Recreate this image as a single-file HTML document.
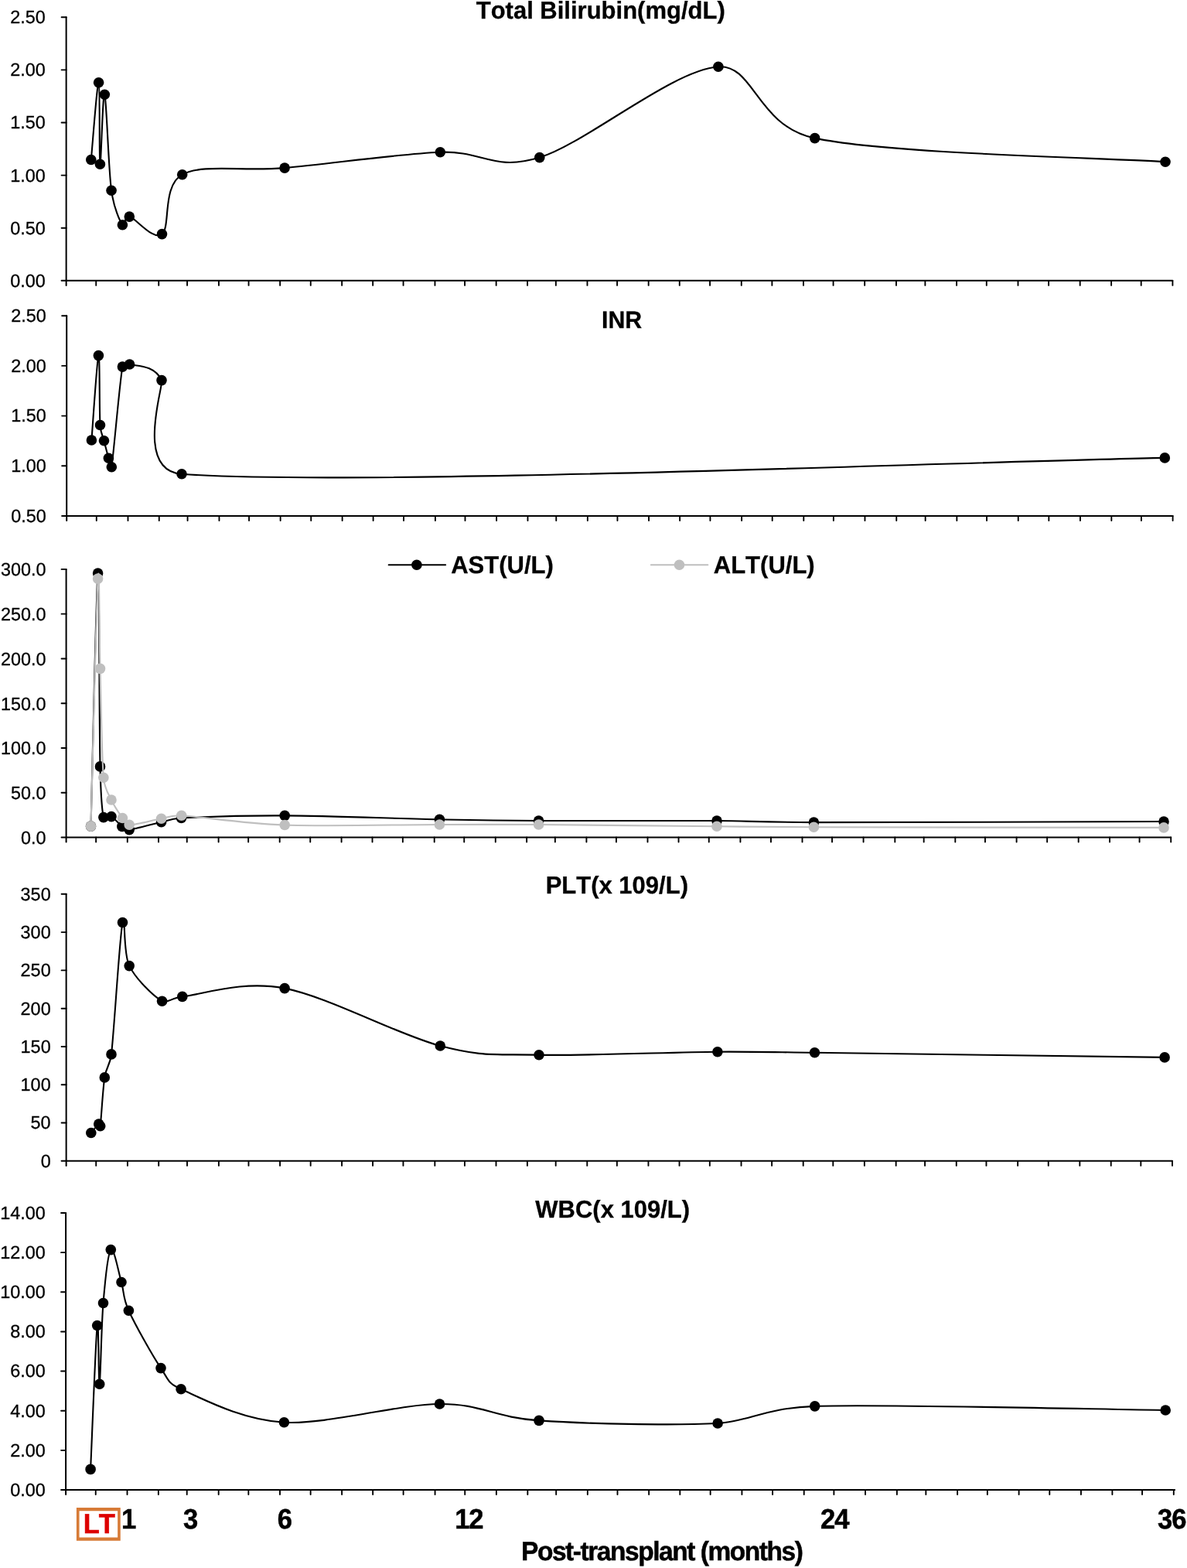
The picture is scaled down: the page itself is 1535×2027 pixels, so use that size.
<!DOCTYPE html>
<html lang="en">
<head>
<meta charset="utf-8">
<title>Post-transplant laboratory trends</title>
<style>
html,body{margin:0;padding:0;background:#fff;}
body{width:1535px;height:2027px;overflow:hidden;}
svg{display:block;font-family:'Liberation Sans', Arial, Helvetica, sans-serif;text-rendering:geometricPrecision;font-kerning:none;}
.ax path{stroke:#000;fill:none;stroke-linecap:round;stroke-linejoin:round;}
.ln{fill:none;stroke-width:2.1;stroke-linejoin:round;stroke-linecap:round;}
.yl{font-size:23.4px;text-anchor:end;fill:#000;stroke:#000;stroke-width:0.3px;}
.tt{font-size:31.0px;font-weight:bold;text-anchor:middle;fill:#000;stroke:#000;stroke-width:0.3px;}
.lg{font-size:31.0px;font-weight:bold;fill:#000;stroke:#000;stroke-width:0.3px;}
.xl{font-size:34.6px;font-weight:bold;letter-spacing:-1.2px;font-kerning:none;fill:#000;stroke:#000;stroke-width:0.5px;}
.lt{fill:#dd0000;stroke:#dd0000;}
.xt{font-size:33.5px;font-weight:bold;letter-spacing:-1.45px;font-kerning:none;fill:#000;stroke:#000;stroke-width:0.5px;}
</style>
</head>
<body>
<svg width="1535" height="2027" viewBox="0 0 1535 2027">
<rect width="1535" height="2027" fill="#fff"/>
<g class="ax">
<path d="M85.64,22.2 V368.92" stroke-width="2.0"/>
<path d="M79.59,362.87 H1516.4" stroke-width="2.0"/>
<path d="M79.59,22.2 H85.64 M79.59,90.33 H85.64 M79.59,158.47 H85.64 M79.59,226.6 H85.64 M79.59,294.74 H85.64" stroke-width="1.9"/>
<path d="M124.24,362.87 V368.92 M164.94,362.87 V368.92 M205.25,362.87 V368.92 M242.05,362.87 V368.92 M282.95,362.87 V368.92 M321.55,362.87 V368.92 M362.15,362.87 V368.92 M401.75,362.87 V368.92 M442.15,362.87 V368.92 M482.16,362.87 V368.92 M521.56,362.87 V368.92 M562.46,362.87 V368.92 M601.06,362.87 V368.92 M641.66,362.87 V368.92 M682.07,362.87 V368.92 M718.87,362.87 V368.92 M759.47,362.87 V368.92 M798.07,362.87 V368.92 M838.67,362.87 V368.92 M878.77,362.87 V368.92 M918.07,362.87 V368.92 M958.78,362.87 V368.92 M998.38,362.87 V368.92 M1038.98,362.87 V368.92 M1077.58,362.87 V368.92 M1118.18,362.87 V368.92 M1158.99,362.87 V368.92 M1196.39,362.87 V368.92 M1237.09,362.87 V368.92 M1275.79,362.87 V368.92 M1316.49,362.87 V368.92 M1356.09,362.87 V368.92 M1396.69,362.87 V368.92 M1437.1,362.87 V368.92 M1475.7,362.87 V368.92 M1516.4,362.87 V368.92" stroke-width="1.9"/>
</g>
<text class="yl" x="58.85" y="30">2.50</text>
<text class="yl" x="58.85" y="98">2.00</text>
<text class="yl" x="58.85" y="166">1.50</text>
<text class="yl" x="58.85" y="235">1.00</text>
<text class="yl" x="58.85" y="303">0.50</text>
<text class="yl" x="58.85" y="371">0.00</text>
<text class="tt" transform="translate(776.7 24) scale(1 1.02)">Total Bilirubin(mg/dL)</text>
<path class="ln" d="M117.8,206.5 C119.43,189.88 125.67,105.83 127.6,106.8 C129.53,107.77 128.12,209.73 129.4,212.3 C130.68,214.87 132.86,116.55 135.3,122.2 C137.74,127.85 140.2,218.1 144.05,246.2 C147.23,269.41 155.2,286.13 158.4,290.8 C161.49,295.3 160.52,278.53 167.3,280.1 C175.82,282.07 198.1,311.67 209.5,302.6 C220.9,293.53 209.27,239.95 235.7,225.7 C262.13,211.45 312.5,221.92 368.1,217.1 C423.7,212.28 514.35,199.05 569.3,196.8 C624.25,194.55 637.87,222.02 697.8,203.6 C757.73,185.18 869.58,90.47 928.9,86.3 C975.64,83.02 977.78,162.46 1053.7,178.6 C1150.05,199.08 1431.45,204.1 1507,209.2" stroke="#000"/>
<g fill="#000"><circle cx="117.8" cy="206.5" r="6.8"/><circle cx="127.6" cy="106.8" r="6.8"/><circle cx="129.4" cy="212.3" r="6.8"/><circle cx="135.3" cy="122.2" r="6.8"/><circle cx="144.05" cy="246.2" r="6.8"/><circle cx="158.4" cy="290.8" r="6.8"/><circle cx="167.3" cy="280.1" r="6.8"/><circle cx="209.5" cy="302.6" r="6.8"/><circle cx="235.7" cy="225.7" r="6.8"/><circle cx="368.1" cy="217.1" r="6.8"/><circle cx="569.3" cy="196.8" r="6.8"/><circle cx="697.8" cy="203.6" r="6.8"/><circle cx="928.9" cy="86.3" r="6.8"/><circle cx="1053.7" cy="178.6" r="6.8"/><circle cx="1507" cy="209.2" r="6.8"/></g>
<g class="ax">
<path d="M86.2,408.2 V673.02" stroke-width="2.0"/>
<path d="M80.15,666.97 H1516.6" stroke-width="2.0"/>
<path d="M80.15,408.2 H86.2 M80.15,472.89 H86.2 M80.15,537.59 H86.2 M80.15,602.28 H86.2" stroke-width="1.9"/>
<path d="M124.79,666.97 V673.02 M165.48,666.97 V673.02 M205.77,666.97 V673.02 M242.57,666.97 V673.02 M283.46,666.97 V673.02 M322.05,666.97 V673.02 M362.64,666.97 V673.02 M402.23,666.97 V673.02 M442.63,666.97 V673.02 M482.62,666.97 V673.02 M522.01,666.97 V673.02 M562.9,666.97 V673.02 M601.49,666.97 V673.02 M642.08,666.97 V673.02 M682.47,666.97 V673.02 M719.27,666.97 V673.02 M759.86,666.97 V673.02 M798.45,666.97 V673.02 M839.04,666.97 V673.02 M879.13,666.97 V673.02 M918.43,666.97 V673.02 M959.12,666.97 V673.02 M998.71,666.97 V673.02 M1039.3,666.97 V673.02 M1077.89,666.97 V673.02 M1118.48,666.97 V673.02 M1159.27,666.97 V673.02 M1196.67,666.97 V673.02 M1237.36,666.97 V673.02 M1276.05,666.97 V673.02 M1316.74,666.97 V673.02 M1356.33,666.97 V673.02 M1396.93,666.97 V673.02 M1437.32,666.97 V673.02 M1475.91,666.97 V673.02 M1516.6,666.97 V673.02" stroke-width="1.9"/>
</g>
<text class="yl" x="59.85" y="416">2.50</text>
<text class="yl" x="59.85" y="481">2.00</text>
<text class="yl" x="59.85" y="545">1.50</text>
<text class="yl" x="59.85" y="610">1.00</text>
<text class="yl" x="59.85" y="675">0.50</text>
<text class="tt" transform="translate(804.1 424) scale(1 1.02)" style="font-size:30.3px">INR</text>
<path class="ln" d="M118.4,569 C119.9,550.77 125.55,462.85 127.4,459.6 C129.25,456.35 128.32,531.13 129.5,549.5 C130.17,559.93 133.47,565.76 134.5,569.8 C136.32,576.92 138.77,586.55 140.4,592.2 C140.9,593.92 143.39,609.7 144.3,603.7 C147.3,584.02 154.52,496.22 158.4,474.1 C159.24,469.32 163.01,469.41 167.6,471 C175.05,473.58 199.07,470.72 209,491.6 C212.21,498.35 173.21,608.02 235,612.8 C451.22,629.52 1294.42,595.38 1506.3,591.9" stroke="#000"/>
<g fill="#000"><circle cx="118.4" cy="569" r="6.8"/><circle cx="127.4" cy="459.6" r="6.8"/><circle cx="129.5" cy="549.5" r="6.8"/><circle cx="134.5" cy="569.8" r="6.8"/><circle cx="140.4" cy="592.2" r="6.8"/><circle cx="144.3" cy="603.7" r="6.8"/><circle cx="158.4" cy="474.1" r="6.8"/><circle cx="167.6" cy="471" r="6.8"/><circle cx="209" cy="491.6" r="6.8"/><circle cx="235" cy="612.8" r="6.8"/><circle cx="1506.3" cy="591.9" r="6.8"/></g>
<g class="ax">
<path d="M85.6,735.9 V1088.55" stroke-width="2.0"/>
<path d="M79.55,1082.5 H1514.2" stroke-width="2.0"/>
<path d="M79.55,735.9 H85.6 M79.55,793.67 H85.6 M79.55,851.43 H85.6 M79.55,909.2 H85.6 M79.55,966.97 H85.6 M79.55,1024.73 H85.6" stroke-width="1.9"/>
<path d="M124.14,1082.5 V1088.55 M164.78,1082.5 V1088.55 M205.02,1082.5 V1088.55 M241.77,1082.5 V1088.55 M282.61,1082.5 V1088.55 M321.15,1082.5 V1088.55 M361.69,1082.5 V1088.55 M401.24,1082.5 V1088.55 M441.58,1082.5 V1088.55 M481.52,1082.5 V1088.55 M520.86,1082.5 V1088.55 M561.7,1082.5 V1088.55 M600.24,1082.5 V1088.55 M640.78,1082.5 V1088.55 M681.12,1082.5 V1088.55 M717.87,1082.5 V1088.55 M758.41,1082.5 V1088.55 M796.95,1082.5 V1088.55 M837.49,1082.5 V1088.55 M877.54,1082.5 V1088.55 M916.78,1082.5 V1088.55 M957.42,1082.5 V1088.55 M996.96,1082.5 V1088.55 M1037.5,1082.5 V1088.55 M1076.04,1082.5 V1088.55 M1116.58,1082.5 V1088.55 M1157.32,1082.5 V1088.55 M1194.67,1082.5 V1088.55 M1235.31,1082.5 V1088.55 M1273.95,1082.5 V1088.55 M1314.59,1082.5 V1088.55 M1354.14,1082.5 V1088.55 M1394.68,1082.5 V1088.55 M1435.02,1082.5 V1088.55 M1473.56,1082.5 V1088.55 M1514.2,1082.5 V1088.55" stroke-width="1.9"/>
</g>
<text class="yl" x="59.45" y="744">300.0</text>
<text class="yl" x="59.45" y="802">250.0</text>
<text class="yl" x="59.45" y="860">200.0</text>
<text class="yl" x="59.45" y="918">150.0</text>
<text class="yl" x="59.45" y="975">100.0</text>
<text class="yl" x="59.45" y="1033">50.0</text>
<text class="yl" x="59.45" y="1091">0.0</text>
<path class="ln" d="M117.5,1068.1 C119.02,1013.59 124.6,753.92 126.6,741.05 C128.6,728.18 128.28,938.31 129.5,990.9 C130.26,1023.81 132.39,1049.85 133.9,1056.6 C135.01,1061.55 142.17,1054.7 144,1055.6 C147.99,1057.57 153.98,1065.57 157.85,1068.4 C160.18,1070.11 162.11,1073.17 167.2,1072.6 C175.66,1071.65 197.38,1065.22 208.6,1062.7 C214.16,1061.45 221.31,1058.19 234.5,1057.5 C261.1,1056.12 312.55,1054.1 368.2,1054.4 C423.85,1054.7 513.67,1058.2 568.4,1059.3 C623.13,1060.4 636.83,1060.72 696.6,1061 C756.37,1061.28 867.7,1060.65 927,1061 C965.6,1061.23 989.69,1062.99 1052.4,1063.1 C1148.73,1063.27 1429.57,1062.22 1505,1062.05" stroke="#000"/>
<g fill="#000"><circle cx="117.5" cy="1068.1" r="6.8"/><circle cx="126.6" cy="741.05" r="6.8"/><circle cx="129.5" cy="990.9" r="6.8"/><circle cx="133.9" cy="1056.6" r="6.8"/><circle cx="144" cy="1055.6" r="6.8"/><circle cx="157.85" cy="1068.4" r="6.8"/><circle cx="167.2" cy="1072.6" r="6.8"/><circle cx="208.6" cy="1062.7" r="6.8"/><circle cx="234.5" cy="1057.5" r="6.8"/><circle cx="368.2" cy="1054.4" r="6.8"/><circle cx="568.4" cy="1059.3" r="6.8"/><circle cx="696.6" cy="1061" r="6.8"/><circle cx="927" cy="1061" r="6.8"/><circle cx="1052.4" cy="1063.1" r="6.8"/><circle cx="1505" cy="1062.05" r="6.8"/></g>
<path class="ln" d="M117.5,1068.1 C119.02,1014.77 124.6,782.05 126.6,748.1 C128.6,714.15 128.28,821.53 129.5,864.4 C130.72,907.27 131.48,977.03 133.9,1005.3 C135.2,1020.46 141.81,1029.33 144,1034 C148.08,1042.7 154.53,1052.12 158.4,1057.5 C162.03,1062.55 160.98,1066.21 167.2,1066.3 C175.57,1066.42 197.35,1060.2 208.6,1058.2 C214.17,1057.21 221.52,1053.61 234.7,1054.3 C261.3,1055.68 312.58,1064.55 368.2,1066.5 C423.82,1068.45 513.67,1066.08 568.4,1066 C623.13,1065.92 636.83,1065.62 696.6,1066 C756.37,1066.38 867.7,1067.75 927,1068.3 C965.6,1068.66 989.7,1069.13 1052.4,1069.3 C1148.73,1069.57 1429.57,1069.8 1505,1069.9" stroke="#bfbfbf"/>
<g fill="#bfbfbf"><circle cx="117.5" cy="1068.1" r="6.8"/><circle cx="126.6" cy="748.1" r="6.8"/><circle cx="129.5" cy="864.4" r="6.8"/><circle cx="133.9" cy="1005.3" r="6.8"/><circle cx="144" cy="1034" r="6.8"/><circle cx="158.4" cy="1057.5" r="6.8"/><circle cx="167.2" cy="1066.3" r="6.8"/><circle cx="208.6" cy="1058.2" r="6.8"/><circle cx="234.7" cy="1054.3" r="6.8"/><circle cx="368.2" cy="1066.5" r="6.8"/><circle cx="568.4" cy="1066" r="6.8"/><circle cx="696.6" cy="1066" r="6.8"/><circle cx="927" cy="1068.3" r="6.8"/><circle cx="1052.4" cy="1069.3" r="6.8"/><circle cx="1505" cy="1069.9" r="6.8"/></g>
<path class="ln" d="M502.7,730.3 H576.1" stroke="#000"/><circle cx="538.9" cy="730.3" r="6.8" fill="#000"/>
<text class="lg" transform="translate(583.2 741) scale(1 1.02)">AST(U/L)</text>
<path class="ln" d="M841.9,730.3 H915.3" stroke="#bfbfbf"/><circle cx="878.5" cy="730.3" r="6.8" fill="#bfbfbf"/>
<text class="lg" transform="translate(922.8 741) scale(1 1.02)">ALT(U/L)</text>
<g class="ax">
<path d="M85.64,1155.8 V1506.9" stroke-width="2.0"/>
<path d="M79.59,1500.85 H1516" stroke-width="2.0"/>
<path d="M79.59,1155.8 H85.64 M79.59,1205.09 H85.64 M79.59,1254.39 H85.64 M79.59,1303.68 H85.64 M79.59,1352.97 H85.64 M79.59,1402.26 H85.64 M79.59,1451.56 H85.64" stroke-width="1.9"/>
<path d="M124.23,1500.85 V1506.9 M164.92,1500.85 V1506.9 M205.21,1500.85 V1506.9 M242,1500.85 V1506.9 M282.89,1500.85 V1506.9 M321.48,1500.85 V1506.9 M362.07,1500.85 V1506.9 M401.66,1500.85 V1506.9 M442.06,1500.85 V1506.9 M482.05,1500.85 V1506.9 M521.44,1500.85 V1506.9 M562.33,1500.85 V1506.9 M600.92,1500.85 V1506.9 M641.51,1500.85 V1506.9 M681.9,1500.85 V1506.9 M718.69,1500.85 V1506.9 M759.28,1500.85 V1506.9 M797.87,1500.85 V1506.9 M838.46,1500.85 V1506.9 M878.55,1500.85 V1506.9 M917.84,1500.85 V1506.9 M958.53,1500.85 V1506.9 M998.12,1500.85 V1506.9 M1038.71,1500.85 V1506.9 M1077.3,1500.85 V1506.9 M1117.89,1500.85 V1506.9 M1158.68,1500.85 V1506.9 M1196.08,1500.85 V1506.9 M1236.77,1500.85 V1506.9 M1275.46,1500.85 V1506.9 M1316.15,1500.85 V1506.9 M1355.74,1500.85 V1506.9 M1396.33,1500.85 V1506.9 M1436.72,1500.85 V1506.9 M1475.31,1500.85 V1506.9 M1516,1500.85 V1506.9" stroke-width="1.9"/>
</g>
<text class="yl" x="65.65" y="1164">350</text>
<text class="yl" x="65.65" y="1213">300</text>
<text class="yl" x="65.65" y="1262">250</text>
<text class="yl" x="65.65" y="1312">200</text>
<text class="yl" x="65.65" y="1361">150</text>
<text class="yl" x="65.65" y="1410">100</text>
<text class="yl" x="65.65" y="1459">50</text>
<text class="yl" x="65.65" y="1509">0</text>
<text class="tt" transform="translate(797.8 1154.7) scale(1 1.02)">PLT(x 109/L)</text>
<path class="ln" d="M117.8,1464.5 C119.46,1462.58 125.77,1454.47 127.75,1453 C129.09,1452.01 129.49,1457.35 129.7,1455.7 C130.96,1445.68 132.92,1408.37 135.3,1392.9 C137.68,1377.46 142.2,1378.41 144,1362.9 C147.87,1329.5 154.63,1211.55 158.5,1192.5 C162.37,1173.45 158.68,1231.65 167.2,1248.6 C175.72,1265.55 198.17,1287.57 209.6,1294.2 C215.38,1297.55 222.46,1289.8 235.8,1288.4 C262.22,1285.63 312.52,1267 368.1,1277.6 C423.68,1288.2 514.48,1337.65 569.3,1352 C624.12,1366.35 637.23,1362.42 697,1363.7 C756.77,1364.98 868.48,1360.18 927.9,1359.7 C966.62,1359.39 990.7,1360.02 1053.5,1360.8 C1149.87,1362 1430.67,1365.88 1506.1,1366.9" stroke="#000"/>
<g fill="#000"><circle cx="117.8" cy="1464.5" r="6.8"/><circle cx="127.75" cy="1453" r="6.8"/><circle cx="129.7" cy="1455.7" r="6.8"/><circle cx="135.3" cy="1392.9" r="6.8"/><circle cx="144" cy="1362.9" r="6.8"/><circle cx="158.5" cy="1192.5" r="6.8"/><circle cx="167.2" cy="1248.6" r="6.8"/><circle cx="209.6" cy="1294.2" r="6.8"/><circle cx="235.8" cy="1288.4" r="6.8"/><circle cx="368.1" cy="1277.6" r="6.8"/><circle cx="569.3" cy="1352" r="6.8"/><circle cx="697" cy="1363.7" r="6.8"/><circle cx="927.9" cy="1359.7" r="6.8"/><circle cx="1053.5" cy="1360.8" r="6.8"/><circle cx="1506.1" cy="1366.9" r="6.8"/></g>
<g class="ax">
<path d="M85.1,1568 V1932.05" stroke-width="2.0"/>
<path d="M79.05,1926 H1519.1" stroke-width="2.0"/>
<path d="M79.05,1568 H85.1 M79.05,1619.14 H85.1 M79.05,1670.29 H85.1 M79.05,1721.43 H85.1 M79.05,1772.57 H85.1 M79.05,1823.71 H85.1 M79.05,1874.86 H85.1" stroke-width="1.9"/>
<path d="M123.75,1926 V1932.05 M164.51,1926 V1932.05 M204.87,1926 V1932.05 M241.72,1926 V1932.05 M282.68,1926 V1932.05 M321.33,1926 V1932.05 M361.99,1926 V1932.05 M401.64,1926 V1932.05 M442.1,1926 V1932.05 M482.15,1926 V1932.05 M521.61,1926 V1932.05 M562.57,1926 V1932.05 M601.22,1926 V1932.05 M641.88,1926 V1932.05 M682.33,1926 V1932.05 M719.19,1926 V1932.05 M759.84,1926 V1932.05 M798.5,1926 V1932.05 M839.15,1926 V1932.05 M879.31,1926 V1932.05 M918.66,1926 V1932.05 M959.42,1926 V1932.05 M999.08,1926 V1932.05 M1039.73,1926 V1932.05 M1078.39,1926 V1932.05 M1119.04,1926 V1932.05 M1159.9,1926 V1932.05 M1197.35,1926 V1932.05 M1238.11,1926 V1932.05 M1276.86,1926 V1932.05 M1317.62,1926 V1932.05 M1357.28,1926 V1932.05 M1397.93,1926 V1932.05 M1438.39,1926 V1932.05 M1477.04,1926 V1932.05 M1517.8,1926 V1932.05" stroke-width="1.9"/>
</g>
<text class="yl" x="58.85" y="1576">14.00</text>
<text class="yl" x="58.85" y="1627">12.00</text>
<text class="yl" x="58.85" y="1678">10.00</text>
<text class="yl" x="58.85" y="1729">8.00</text>
<text class="yl" x="58.85" y="1780">6.00</text>
<text class="yl" x="58.85" y="1832">4.00</text>
<text class="yl" x="58.85" y="1883">2.00</text>
<text class="yl" x="58.85" y="1934">0.00</text>
<text class="tt" transform="translate(792.2 1573.6) scale(1 1.02)">WBC(x 109/L)</text>
<path class="ln" d="M117.1,1899.4 C118.53,1868.42 123.77,1731.85 125.7,1713.5 C127.63,1695.15 127.4,1794.13 128.7,1789.3 C130,1784.47 131.07,1713.45 133.5,1684.5 C135.93,1655.55 139.38,1620.1 143.3,1615.6 C147.22,1611.1 153.15,1644.4 157,1657.5 C160.58,1669.68 158.5,1676.98 166.4,1694.2 C174.9,1712.72 196.72,1751.67 208,1768.6 C218.45,1784.29 216.85,1788.21 234.1,1795.8 C260.67,1807.48 311.67,1835.5 367.4,1838.7 C423.13,1841.9 513.57,1815.38 568.5,1815 C623.43,1814.62 637.07,1832.23 697,1836.4 C756.93,1840.57 868.65,1843.09 928.1,1840 C967.36,1837.96 989.96,1819.72 1053.7,1817.85 C1150.22,1815.02 1431.62,1822.14 1507.2,1823" stroke="#000"/>
<g fill="#000"><circle cx="117.1" cy="1899.4" r="6.8"/><circle cx="125.7" cy="1713.5" r="6.8"/><circle cx="128.7" cy="1789.3" r="6.8"/><circle cx="133.5" cy="1684.5" r="6.8"/><circle cx="143.3" cy="1615.6" r="6.8"/><circle cx="157" cy="1657.5" r="6.8"/><circle cx="166.4" cy="1694.2" r="6.8"/><circle cx="208" cy="1768.6" r="6.8"/><circle cx="234.1" cy="1795.8" r="6.8"/><circle cx="367.4" cy="1838.7" r="6.8"/><circle cx="568.5" cy="1815" r="6.8"/><circle cx="697" cy="1836.4" r="6.8"/><circle cx="928.1" cy="1840" r="6.8"/><circle cx="1053.7" cy="1817.85" r="6.8"/><circle cx="1507.2" cy="1823" r="6.8"/></g>
<path fill="#d77b37" fill-rule="evenodd" d="M98.9,1949.1 H155.75 V1991.75 H98.9 Z M102.55,1953.2 V1987.4 H152.15 V1953.2 Z"/>
<text class="xl lt" transform="translate(107.8 1982) scale(1 1.04)">LT</text>
<text class="xl" transform="translate(157 1976) scale(1 1.05)">1</text>
<text class="xl" transform="translate(237.1 1976) scale(1 1.05)">3</text>
<text class="xl" transform="translate(358.8 1976) scale(1 1.05)">6</text>
<text class="xl" transform="translate(588.3 1976) scale(1 1.05)">12</text>
<text class="xl" transform="translate(1061.1 1976) scale(1 1.05)">24</text>
<text class="xl" transform="translate(1497.1 1976) scale(1 1.05)">36</text>
<text class="xt" transform="translate(674 2017) scale(1 1.03)">Post-transplant (months)</text>
</svg>
</body>
</html>
